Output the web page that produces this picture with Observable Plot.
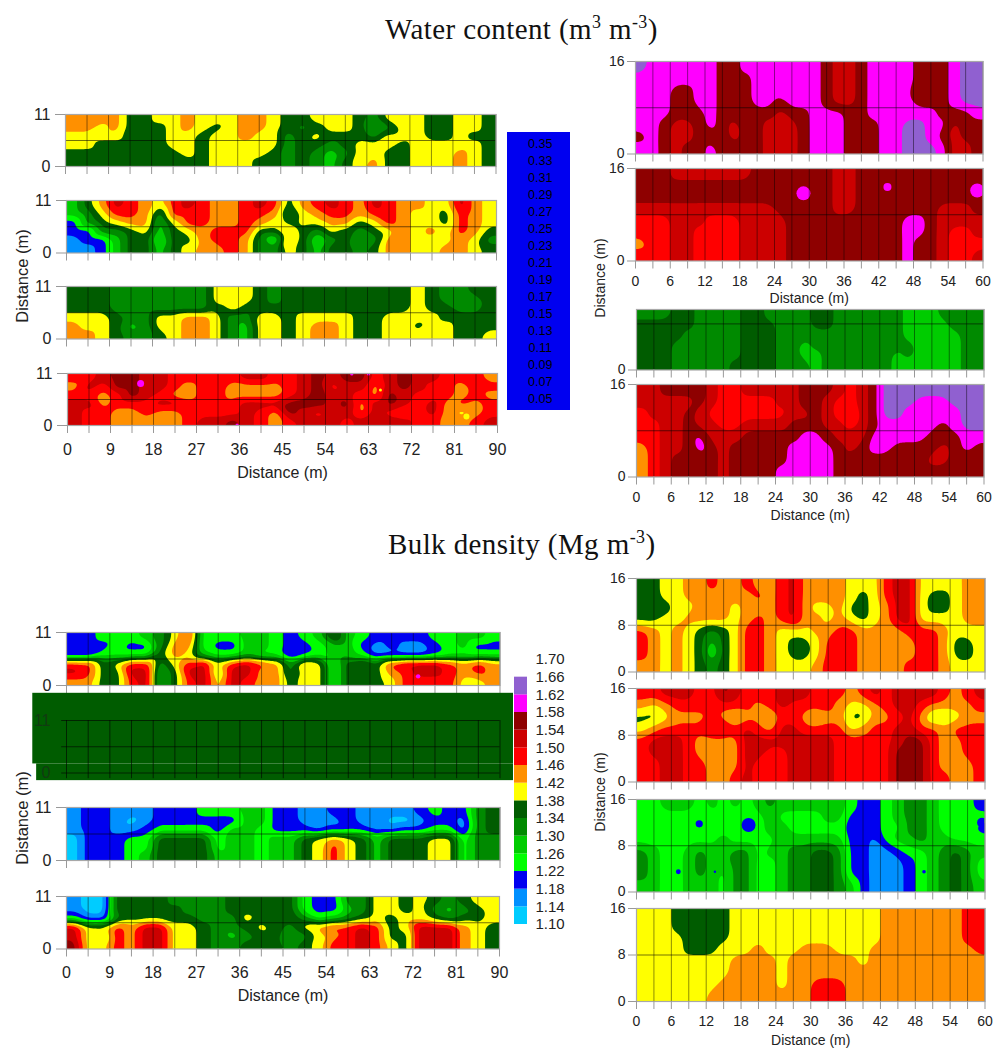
<!DOCTYPE html>
<html><head><meta charset="utf-8">
<script src="https://cdn.jsdelivr.net/npm/d3@7"></script>
<script src="https://cdn.jsdelivr.net/npm/@observablehq/plot@0.6"></script>
<style>
html,body{margin:0;padding:0;background:#fff}
#page{position:relative;width:1003px;height:1048px;overflow:hidden;font-family:"Liberation Sans",Arial,sans-serif}
#page svg{position:absolute;background:transparent;max-width:none}
.title{position:absolute;font-family:"Liberation Serif","Times New Roman",serif;font-size:29px;letter-spacing:.4px;color:#111;white-space:nowrap}
.title sup{font-size:.62em;line-height:0}
.ylab{position:absolute;white-space:nowrap;color:#222;transform:translate(-50%,-50%) rotate(-90deg)}
</style></head><body><div id="page"></div>
<script>
// Class colours, lowest class first
const classColors = ["#00ccff","#0090ff","#0000f0","#00ff00","#00cc00","#008a00","#005c00","#ffff00","#ff9000","#ff0000","#cc0000","#8e0000","#ff00ff","#9060d0"];
const waterBreaks = d3.range(14).map(i => 0.05 + 0.02 * i);
const densityBreaks = d3.range(14).map(i => 1.10 + 0.04 * i);
const waterLabels = [0.35,0.33,0.31,0.29,0.27,0.25,0.23,0.21,0.19,0.17,0.15,0.13,0.11,0.09,0.07,0.05];
const densityLabels = [1.70,1.66,1.62,1.58,1.54,1.50,1.46,1.42,1.38,1.34,1.30,1.26,1.22,1.18,1.14,1.10];
const ticks90 = d3.range(0, 91, 4.5), labels90 = d3.range(0, 91, 9);
const ticks60 = d3.range(0, 61, 3), labels60 = d3.range(0, 61, 6);

// Gridded readings: each character is the colour class (0-d) read at that cell, top row first
const waterLeft1 = ["88886 67787 77887 66777 65777 66776","88786 66787 67887 65677 64577 66776","77776 66776 77877 56766 65777 66766","77666 66776 77777 56656 77767 77776","66666 66676 77776 56545 77667 77876","66666 66666 77766 56546 78667 77876"];
const waterLeft2 = ["468a9 879a9 889a9 689a9 8a988 77a87","45799 85999 88998 57899 89987 76987","25678 84799 88987 67788 67987 76987","22556 74678 99966 86576 56787 87986","12246 63668 99853 86356 45887 77875","11246 64678 89855 76466 56887 78876"];
const waterLeft3 = ["66655 55555 77765 66666 66667 65566","66655 55555 77765 66666 66667 65556","66655 55555 67666 66666 66667 66556","77765 57788 75577 67777 66777 76666","87764 57788 75477 67887 66776 77666","88765 56788 75477 67887 66777 77667"];
const waterLeft4 = ["99abb aa999 99aa9 9abab b9aba a9998","8a9bb aa989 98888 9ab9a a8aba 99899","9989b a9889 98888 9abaa 98ba9 99898","aa899 9aa99 99aaa bbbab 8aba9 a8989","a9988 98899 99a98 ba9aa 8a989 a8789","a9988 8889a aba98 9aaa9 aaaa9 9889a"];
const waterRight1 = ["dcccc ccbbc ccccc cbaab ccccb bbcdd","ccccc ccbbb ccccc cbaab ccccb bbcdd","cccbb ccbbb ccccc cbaab cccca bbcdd","cccbb ccbbb ccbcc cbaab ccccb bbcdd","cccbb bcbbb bbabb cccbb ccccc cbbbc","ccbaa bcbab baaab cccbb bccdd ccabb","bcbaa bbbab ba9ab cccbb bccdd cbabb","ccbab bcbbb baaab cccbb bccdd dcaab"];
const waterRight2 = ["bbbaa aaaaa bbbbb bbaab bbbbb bbbbb","bbbbb bbbbb bbbbb bbaab bbbbb bbbbb","bbbbb bbbbb bbbbb bbaab bbbbb bbbbb","aaaaa aaaaa aabbb bbaab bbbbb baaab","999aa a999a aaabb bbbbb bbbcc baaaa","999aa 9999a aaabb bbbbb bbbcc ba99a","899aa 9999a aaabb bbbba bbbcb ba999","999aa 9999a aaabb bbbbb bbbcb ba99a"];
const waterRight3 = ["55566 55556 65555 66555 55544 45555","66666 55556 66555 66555 55544 44555","66665 55556 66555 55555 55544 44455","66655 55556 66554 55555 55554 44455","66655 55556 66554 45555 55454 44455","66655 55566 66555 45555 55444 44455"];
const waterRight4 = ["aabbb ba99a aaaab bba9a bdddd ddddd","aaaaa ba999 99aab ba99a bdddc ccddd","9aaab a9999 999aa ba98a bddcc cccdd","99aab aa99a aaabb baa9a bcccc cbcdd","99aab caaab bbbbc cbaaa ccccc bbbcc","89aab cbabb bbbcc ccbab ccbbb babcb","89abb bbabb bbbcc ccbbb bbbbb aabbb","89abb bbabb bbccc ccbbb bbbbb bbbbb"];
const densityLeft1 = ["22333 45793 33443 23474 32222 33443","22232 25883 22443 22344 21211 23422","11333 36874 33433 12344 31111 23333","99679 9579a 79a98 58736 769aa a9898","a966a a46aa 6aa88 57736 6689a a9898","88669 a469a 7a988 67736 66799 99778"];
const densityLeft3 = ["12211 12223 33442 21122 11112 32256","12210 12222 22442 21112 11001 22156","12211 23333 24432 22122 21122 33156","02223 36666 34434 46787 64666 77355","02223 36666 34434 46797 64666 77355","02223 46666 44434 46797 64666 77355"];
const densityLeft4 = ["10066 66555 56666 63225 57767 65677","10066 66655 56666 63224 57767 54567","31156 66665 55766 65345 67677 65667","a7798 aa776 55676 57899 a967a aa876","a7698 aa776 54566 45789 a966a aa876","b7798 aa776 55666 56799 a976a aa876"];
const densityRight1 = ["66778 89889 889a8 88877 79aa7 77788","66778 88888 989a8 88876 79aa7 66788","66677 88878 889a8 77866 78aa7 66788","66778 88878 989a8 87876 78aa7 77788","98787 65679 98777 88998 88899 98777","98787 64679 98766 79998 88889 98667","98787 63679 98766 79998 88889 98667","88787 65679 98777 89998 88899 98777"];
const densityRight2 = ["99aaa 99ba9 99aaa 99989 a9aaa a989a","87899 99999 89a99 99877 89aa9 88889","66788 89878 87998 78866 889a8 66788","78999 9aa9a 98aa9 99978 99aa9 98999","9aaa9 8888a aaa9a aa999 99abb 98899","9aaa9 8888a a99aa aa999 99bbb 98899","99aa9 9888a 999aa aa999 99bbb 98889","99aa9 9889a 999aa aa999 99bbb 99889"];
const densityRight3 = ["33444 34343 45444 44432 23455 43332","33333 33333 34333 34422 23455 43433","33333 33333 34433 33321 23355 43332","33333 33433 33444 44422 13445 44333","54334 54455 34455 66522 11233 45654","54334 54455 33455 66522 11123 45653","54334 54355 33455 66522 11123 45653","44334 44355 33455 66542 11123 45654"];
const densityRight4 = ["77766 66677 77777 77777 78888 88899","77766 56677 77777 77777 78888 88899","77776 66677 77777 77777 78888 88899","77776 66777 87778 88777 88888 88889","77777 77788 88788 88887 88888 88888","77777 77788 88788 88888 88888 88888","77777 77888 88788 99988 88888 89888","77777 78888 88888 99988 88888 88888"];

// Small isolated patches: distance, position across the strip, class, radius
const waterLeft4Spots = [[15.3,8.9,12,3.5],[59.5,10.9,12,1.6],[63,10.9,12,1.6],[35.5,0.1,12,1.6],[83.5,1.9,7,3],[65.5,7.5,7,1.5]];
const waterRight2Spots = [[29,11.7,12,7],[43.5,12.8,12,4],[59,12.2,12,7]];
const densityLeft1Spots = [[73,1.9,12,2.2]];
const densityRight3Spots = [[10.8,11.8,2,3.6],[19.3,11.6,2,7],[7.2,3.5,2,2.4],[13.5,3.5,2,1.2],[49.5,3.5,2,1.8],[59.5,12,2,5],[59.8,15,2,3]];

const page = document.getElementById("page");
function place(svg, left, top) { svg.style.left = left + "px"; svg.style.top = top + "px"; page.appendChild(svg); }
function colorScale(breaks) { return {type: "threshold", domain: breaks.slice(1), range: classColors}; }

function drawPanel(p) {
  const rows = p.grid.map(r => r.replace(/ /g, ""));
  const step = p.breaks[1] - p.breaks[0];
  const L = p.ticks[p.ticks.length - 1];
  const nc = rows[0].length, nr = rows.length;
  // Sample positions: cell centres plus the frame edges, which repeat the nearest reading
  const xs = [0, ...d3.range(nc).map(i => (i + 0.5) * L / nc), L];
  const ys = [p.H, ...d3.range(nr).map(j => p.H * (1 - (j + 0.5) / nr)), 0];
  const samples = [];
  ys.forEach((y, j) => xs.forEach((x, i) => {
    const ch = rows[Math.max(0, Math.min(nr - 1, j - 1))][Math.max(0, Math.min(nc - 1, i - 1))];
    samples.push({x, y, v: p.breaks[parseInt(ch, 16)] + step / 2});
  }));
  const ml = 44, mr = 18, mt = 10, mb = p.axisLabel ? 66 : 26;
  const labelled = new Set(p.labels);
  const svg = Plot.plot({
    width: p.x1 - p.x0 + ml + mr, height: p.yb - p.yt + mt + mb,
    marginLeft: ml, marginRight: mr, marginTop: mt, marginBottom: mb,
    style: {fontFamily: "Liberation Sans", fontSize: p.fs + "px", color: "#222"},
    x: {domain: [0, L]}, y: {domain: [0, p.H]},
    r: {type: "identity"},
    color: colorScale(p.breaks),
    marks: [
      Plot.contour(samples, {x: "x", y: "y", fill: "v", thresholds: p.breaks, interpolate: "barycentric", pixelSize: 1, blur: L === 90 ? 2.5 : 4}),
      Plot.dot(p.spots || [], {x: d => d[0], y: d => d[1], fill: d => p.breaks[d[2]], r: d => d[3], clip: true}),
      Plot.ruleX(p.ticks, {stroke: "#000", strokeOpacity: 0.45}),
      Plot.ruleY([p.mid], {stroke: "#000", strokeOpacity: 0.55}),
      Plot.frame({stroke: "#a8a8a8", strokeWidth: 1.2}),
      Plot.axisX({ticks: p.ticks, tickSize: 8, tickPadding: L === 90 ? 10 : 7, stroke: "#999", fill: "#222",
        tickFormat: d => p.axisLabel && labelled.has(d) ? String(d) : "",
        label: p.axisLabel ? "Distance (m)" : null, labelAnchor: "center", labelArrow: "none", labelOffset: p.labelOffset}),
      Plot.axisY({ticks: p.yTicks, tickSize: L === 90 ? 10 : 8, tickPadding: L === 90 ? 5 : 3, stroke: "#999", fill: "#222", label: null, tickFormat: d => String(d)})
    ]
  });
  place(svg, p.x0 - ml, p.yt - mt);
}

// Water content
drawPanel({grid: waterLeft1, breaks: waterBreaks, x0: 65, x1: 495.5, yt: 113.5, yb: 165.5, H: 11, mid: 5.5, yTicks: [0,11], ticks: ticks90, labels: labels90, fs: 16});
drawPanel({grid: waterLeft2, breaks: waterBreaks, x0: 66, x1: 496, yt: 199.5, yb: 252, H: 11, mid: 5.5, yTicks: [0,11], ticks: ticks90, labels: labels90, fs: 16});
drawPanel({grid: waterLeft3, breaks: waterBreaks, x0: 66, x1: 496, yt: 285.5, yb: 338, H: 11, mid: 5.5, yTicks: [0,11], ticks: ticks90, labels: labels90, fs: 16});
drawPanel({grid: waterLeft4, spots: waterLeft4Spots, breaks: waterBreaks, x0: 66.5, x1: 496.5, yt: 372.5, yb: 424.5, H: 11, mid: 5.5, yTicks: [0,11], ticks: ticks90, labels: labels90, fs: 16, axisLabel: true, labelOffset: 52});
drawPanel({grid: waterRight1, breaks: waterBreaks, x0: 635, x1: 982.5, yt: 60.5, yb: 153, H: 16, mid: 8, yTicks: [0,16], ticks: ticks60, labels: labels60, fs: 14});
drawPanel({grid: waterRight2, spots: waterRight2Spots, breaks: waterBreaks, x0: 635, x1: 982.5, yt: 168, yb: 260.5, H: 16, mid: 8, yTicks: [0,16], ticks: ticks60, labels: labels60, fs: 14, axisLabel: true, labelOffset: 42});
drawPanel({grid: waterRight3, breaks: waterBreaks, x0: 635.5, x1: 983, yt: 308.5, yb: 369, H: 10.5, mid: 8, yTicks: [0], ticks: ticks60, labels: labels60, fs: 14});
drawPanel({grid: waterRight4, breaks: waterBreaks, x0: 635.5, x1: 983, yt: 384, yb: 476.5, H: 16, mid: 8, yTicks: [0,16], ticks: ticks60, labels: labels60, fs: 14, axisLabel: true, labelOffset: 43});

// Bulk density
drawPanel({grid: densityLeft1, spots: densityLeft1Spots, breaks: densityBreaks, x0: 66, x1: 499.5, yt: 631.5, yb: 684.5, H: 11, mid: 5.5, yTicks: [0,11], ticks: ticks90, labels: labels90, fs: 16});

// The second bulk density panel is a single dark green block in the picture
const solidBlocks = [{x1: -7, x2: 92.8, y1: 16.7, y2: 1.9}, {x1: -6.2, x2: 92.8, y1: 1.9, y2: -1.6}];
(function () {
  const x0 = 66, x1 = 499.5, yt = 719.5, yb = 772, ml = 44, mr = 18, mt = 30, mb = 10;
  const svg = Plot.plot({
    width: x1 - x0 + ml + mr, height: yb - yt + mt + mb, marginLeft: ml, marginRight: mr, marginTop: mt, marginBottom: mb,
    style: {fontFamily: "Liberation Sans", fontSize: "16px", color: "#222"},
    x: {domain: [0, 90], axis: null}, y: {domain: [0, 11], axis: null},
    marks: [
      Plot.rect(solidBlocks, {x1: "x1", x2: "x2", y1: "y1", y2: "y2", fill: classColors[6]}),
      Plot.ruleX(ticks90, {y1: -1.2, y2: 11, stroke: "#000", strokeOpacity: 0.6}),
      Plot.ruleY([0, 5.5, 11], {x1: -1, x2: 90, stroke: "#000", strokeOpacity: 0.6}),
      Plot.axisY({ticks: [0,11], tickSize: 0, tickPadding: 16, stroke: "#003a00", fill: "#123a12", label: null, tickFormat: d => String(d)})
    ]
  });
  place(svg, x0 - ml, yt - mt);
})();

drawPanel({grid: densityLeft3, breaks: densityBreaks, x0: 66, x1: 499.5, yt: 806.5, yb: 859.5, H: 11, mid: 5.5, yTicks: [0,11], ticks: ticks90, labels: labels90, fs: 16});
drawPanel({grid: densityLeft4, breaks: densityBreaks, x0: 66, x1: 499, yt: 896, yb: 948.5, H: 11, mid: 5.5, yTicks: [0,11], ticks: ticks90, labels: labels90, fs: 16, axisLabel: true, labelOffset: 52});
drawPanel({grid: densityRight1, breaks: densityBreaks, x0: 635.5, x1: 984, yt: 577.5, yb: 671, H: 16, mid: 8, yTicks: [0,8,16], ticks: ticks60, labels: labels60, fs: 14});
drawPanel({grid: densityRight2, breaks: densityBreaks, x0: 635.5, x1: 984, yt: 687.5, yb: 781, H: 16, mid: 8, yTicks: [0,8,16], ticks: ticks60, labels: labels60, fs: 14});
drawPanel({grid: densityRight3, spots: densityRight3Spots, breaks: densityBreaks, x0: 635.5, x1: 984, yt: 799, yb: 891.5, H: 16, mid: 8, yTicks: [0,8,16], ticks: ticks60, labels: labels60, fs: 14});
drawPanel({grid: densityRight4, breaks: densityBreaks, x0: 635.5, x1: 984, yt: 908, yb: 1001, H: 16, mid: 8, yTicks: [0,8,16], ticks: ticks60, labels: labels60, fs: 14, axisLabel: true, labelOffset: 43});

// Water content legend: a flat blue block with its labels
const waterExtent = [0.036, 0.364];
place(Plot.plot({
  width: 63, height: 278, margin: 0,
  style: {fontFamily: "Liberation Sans", fontSize: "12.5px"},
  x: {domain: [0, 1], axis: null}, y: {domain: waterExtent, axis: null},
  marks: [
    Plot.rect([waterExtent], {x1: 0, x2: 1, y1: d => d[0], y2: d => d[1], fill: "#0000f0"}),
    Plot.text(waterLabels, {x: 0.52, y: d => d, text: d => d.toFixed(2), fill: "#000"})
  ]
}), 507, 132);

// Bulk density legend
const densityBands = densityBreaks.map(b => ({lo: b, hi: b + 0.04}));
place(Plot.plot({
  width: 60, height: 285, marginLeft: 0, marginRight: 47, marginTop: 10, marginBottom: 10,
  style: {fontFamily: "Liberation Sans", fontSize: "15px", color: "#222"},
  x: {domain: [0, 1], axis: null}, y: {domain: [1.10, 1.70]},
  color: colorScale(densityBreaks),
  marks: [
    Plot.rect(densityBands, {x1: 0, x2: 1, y1: "lo", y2: "hi", fill: "lo"}),
    Plot.axisY({anchor: "right", ticks: densityLabels, tickSize: 0, tickPadding: 8, label: null, tickFormat: d => d.toFixed(2)})
  ]
}), 514, 649);

// Titles and shared axis titles
function html(cls, text, css) { const d = document.createElement("div"); d.className = cls; d.innerHTML = text; Object.assign(d.style, css); page.appendChild(d); }
html("title", "Water content (m<sup>3</sup> m<sup>-3</sup>)", {left: "385px", top: "13px"});
html("title", "Bulk density (Mg m<sup>-3</sup>)", {left: "388px", top: "528px"});
html("ylab", "Distance (m)", {left: "22px", top: "276px", fontSize: "16.5px"});
html("ylab", "Distance (m)", {left: "22px", top: "818px", fontSize: "16.5px"});
html("ylab", "Distance (m)", {left: "600px", top: "278px", fontSize: "14px"});
html("ylab", "Distance (m)", {left: "600px", top: "792px", fontSize: "14px"});
</script></body></html>
